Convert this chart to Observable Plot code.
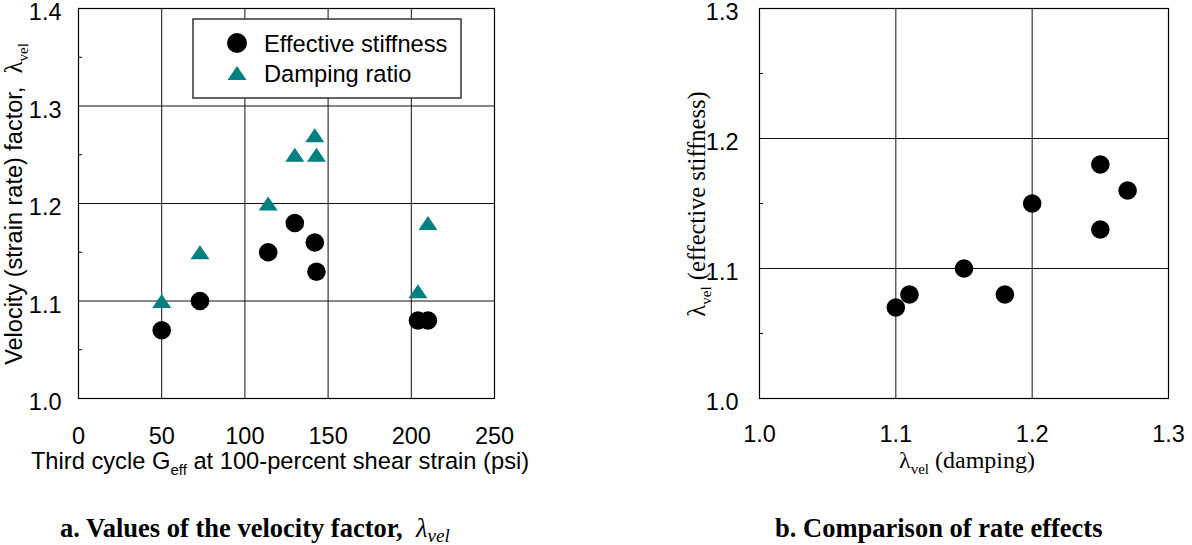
<!DOCTYPE html>
<html>
<head>
<meta charset="utf-8">
<script src="https://cdn.jsdelivr.net/npm/d3@7"></script>
<script src="https://cdn.jsdelivr.net/npm/@observablehq/plot@0.6"></script>
<style>
html, body { margin: 0; padding: 0; background: #fff; }
#wrap { position: relative; width: 1192px; height: 545px; overflow: hidden; background: #fff; }
#left { position: absolute; left: 0; top: 0; }
#right { position: absolute; left: 660px; top: 0; }
.cap { position: absolute; font-family: "Liberation Serif", "Times New Roman", serif; font-weight: bold; font-size: 26.5px; line-height: 26px; white-space: nowrap; color: #000; }
.cap .lam { font-weight: normal; font-style: italic; }
.cap .sub { font-size: 0.72em; position: relative; top: 0.28em; }
</style>
</head>
<body>
<div id="wrap">
  <div id="left"></div>
  <div id="right"></div>
  <div class="cap" style="left:60px; top:515px;">a. Values of the velocity factor,&nbsp; <span class="lam">λ<span class="sub">vel</span></span></div>
  <div class="cap" style="left:775px; top:515px;">b. Comparison of rate effects</div>
</div>
<script>
// ---- data ----
const gEff      = [50, 73, 114, 130, 142, 143, 204, 210];          // third cycle G_eff (psi)
const lamStiff  = [1.07, 1.10, 1.15, 1.18, 1.16, 1.13, 1.08, 1.08]; // effective stiffness λvel
const lamDamp   = [1.10, 1.15, 1.20, 1.25, 1.27, 1.25, 1.11, 1.18]; // damping ratio λvel

const xTicksA = [0, 50, 100, 150, 200, 250];
const yTicksA = [1.0, 1.1, 1.2, 1.3, 1.4];
const minorA  = [1.05, 1.15, 1.25, 1.35];
const ticksB  = [1.0, 1.1, 1.2, 1.3];
const minorB  = [1.05, 1.15, 1.25];
const legendLabels = ["Effective stiffness", "Damping ratio"];

const rows = gEff.map((g, i) => ({g, stiff: lamStiff[i], damp: lamDamp[i]}));

const TEAL = "#008080";
const sans = "'Liberation Sans', Arial, Helvetica, sans-serif";
const serif = "'Liberation Serif', 'Times New Roman', serif";

// flat triangle symbol
const flatTriangle = {
  draw(ctx, size) {
    const r = Math.sqrt(size / Math.PI);
    const w = 0.95 * r, h = 0.7 * r;
    ctx.moveTo(0, -h); ctx.lineTo(w, h); ctx.lineTo(-w, h); ctx.closePath();
  }
};
const fmt1 = d3.format(".1f");

// ---------------- panel a ----------------
const left = Plot.plot({
  width: 540, height: 480,
  marginTop: 8, marginLeft: 78, marginRight: 46, marginBottom: 82,
  style: {fontFamily: sans, background: "transparent", color: "#000"},
  x: {domain: [0, 250], label: null},
  y: {domain: [1.0, 1.4], label: null},
  marks: [
    Plot.gridX(xTicksA.slice(1, -1), {stroke: "#111", strokeOpacity: 1, strokeWidth: 1}),
    Plot.gridY(yTicksA.slice(1, -1), {stroke: "#111", strokeOpacity: 1, strokeWidth: 1}),
    Plot.ruleY(minorA, {y: d => d, x1: 0, x2: 2.5, stroke: "#000"}),
    Plot.frame({stroke: "#000", strokeWidth: 1.2}),
    Plot.axisX(xTicksA, {tickSize: 0, tickPadding: 29, fontSize: 23.5, label: null, tickFormat: d => String(d)}),
    Plot.axisY(yTicksA, {tickSize: 0, tickPadding: 17, fontSize: 23.5, label: null, tickFormat: fmt1, dy: 4}),
    Plot.dot(rows, {x: "g", y: "damp", symbol: flatTriangle, r: 10, fill: TEAL, stroke: "none"}),
    Plot.dot(rows, {x: "g", y: "stiff", r: 9.3, fill: "#000", stroke: "none"})
  ]
});
document.getElementById("left").appendChild(left);

{
  const svg = d3.select(left);
  // x title
  const tx = svg.append("text").attr("x", 280).attr("y", 469).attr("text-anchor", "middle")
    .attr("font-family", sans).attr("font-size", 23.7).attr("fill", "#000");
  tx.append("tspan").text("Third cycle G");
  tx.append("tspan").attr("font-size", 15).attr("dy", 6).text("eff");
  tx.append("tspan").attr("dy", -6).text(" at 100-percent shear strain (psi)");
  // y title
  const ty = svg.append("text").attr("transform", "translate(22,204) rotate(-90)").attr("text-anchor", "middle")
    .attr("font-family", sans).attr("font-size", 23.5).attr("fill", "#000");
  ty.append("tspan").text("Velocity (strain rate) factor,  ");
  ty.append("tspan").attr("font-family", serif).attr("font-size", 25).text("λ");
  ty.append("tspan").attr("font-family", serif).attr("font-size", 15).attr("dy", 6).text("vel");
  // legend
  const lg = svg.append("g");
  lg.append("rect").attr("x", 193).attr("y", 19).attr("width", 268).attr("height", 79)
    .attr("fill", "#fff").attr("stroke", "#333").attr("stroke-width", 1.5);
  lg.append("circle").attr("cx", 237).attr("cy", 43).attr("r", 10).attr("fill", "#000");
  lg.append("path").attr("transform", "translate(237,73)")
    .attr("d", d3.symbol(flatTriangle, Math.PI * 100)()).attr("fill", TEAL);
  legendLabels.forEach((t, i) => {
    lg.append("text").attr("x", 264).attr("y", 43 + i * 30).attr("dy", "0.36em")
      .attr("text-anchor", "start")
      .attr("font-family", sans).attr("font-size", 23.7).attr("fill", "#000").text(t);
  });
}

// ---------------- panel b ----------------
const right = Plot.plot({
  width: 532, height: 480,
  marginTop: 8, marginLeft: 99, marginRight: 24, marginBottom: 82,
  style: {fontFamily: sans, background: "transparent", color: "#000"},
  x: {domain: [1.0, 1.3], label: null},
  y: {domain: [1.0, 1.3], label: null},
  marks: [
    Plot.gridX(ticksB.slice(1, -1), {stroke: "#111", strokeOpacity: 1, strokeWidth: 1}),
    Plot.gridY(ticksB.slice(1, -1), {stroke: "#111", strokeOpacity: 1, strokeWidth: 1}),
    Plot.ruleY(minorB, {y: d => d, x1: 1.0, x2: 1.003, stroke: "#000"}),
    Plot.frame({stroke: "#000", strokeWidth: 1.2}),
    Plot.axisX(ticksB, {tickSize: 0, tickPadding: 27, fontSize: 23.5, label: null, tickFormat: fmt1}),
    Plot.axisY(ticksB, {tickSize: 0, tickPadding: 21, fontSize: 23.5, label: null, tickFormat: fmt1, dy: 4}),
    Plot.dot(rows, {x: "damp", y: "stiff", r: 9.3, fill: "#000", stroke: "none"})
  ]
});
document.getElementById("right").appendChild(right);

{
  const svg = d3.select(right);
  const tx = svg.append("text").attr("x", 307).attr("y", 468).attr("text-anchor", "middle")
    .attr("font-family", serif).attr("font-size", 24).attr("fill", "#000");
  tx.append("tspan").text("λ");
  tx.append("tspan").attr("font-size", 15).attr("dy", 6).text("vel");
  tx.append("tspan").attr("dy", -6).text(" (damping)");
  const ty = svg.append("text").attr("transform", "translate(45,204) rotate(-90)").attr("text-anchor", "middle")
    .attr("font-family", serif).attr("font-size", 24.5).attr("fill", "#000");
  ty.append("tspan").text("λ");
  ty.append("tspan").attr("font-size", 15).attr("dy", 6).text("vel");
  ty.append("tspan").attr("dy", -6).text(" (effective stiffness)");
}
</script>
</body>
</html>
